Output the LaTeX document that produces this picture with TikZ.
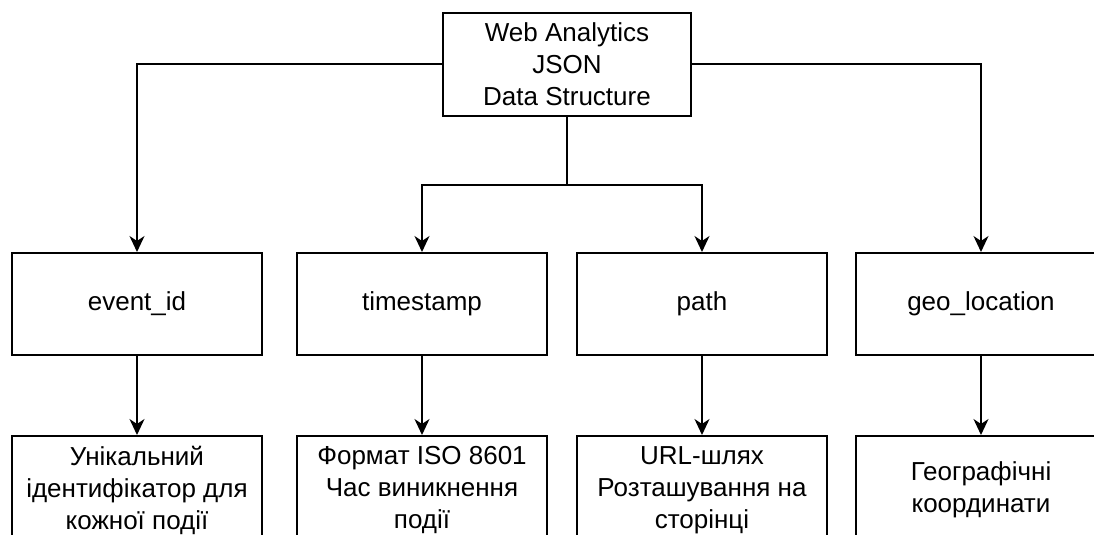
\documentclass[tikz,border=0pt]{standalone}
\usepackage{fontspec}
\setmainfont{Liberation Sans}
\usetikzlibrary{arrows.meta}

\begin{document}
\begin{tikzpicture}[x=0.5pt,y=-0.5pt,>={Stealth[length=8pt,width=7.5pt,inset=2.5pt]},
  box/.style={draw,line width=1pt,minimum width=125pt,minimum height=51pt,
    align=center,inner sep=2pt,font=\fontsize{13}{16}\selectfont},
  link/.style={->,line width=1pt}]
  \useasboundingbox (0,0) rectangle (1094,535);
  \clip (0,0) rectangle (1094,535);
  % root of the structure
  \node[box,minimum width=124pt,minimum height=51.5pt] (root) at (567,64.5)
    {Web Analytics\\JSON\\Data Structure};
  % fields and their descriptions
  \foreach \nm/\x/\fld/\info in {
      event/137/event\_id/{Унікальний\\ідентифікатор для\\кожної події},
      stamp/422/timestamp/{Формат ISO 8601\\Час виникнення\\події},
      path/702/path/{URL-шлях\\Розташування на\\сторінці},
      geo/981/geo\_location/{Географічні\\координати}} {
    \node[box] (\nm) at (\x,304) {\fld};
    \node[box,minimum height=54pt] (\nm-info) at (\x,490) {\info};
    \draw[link] (\nm) -- (\nm-info);
  }
  \coordinate (split) at (567,185);
  \draw[link] (root.west) -| (event.north);
  \draw[link] (root.east) -| (geo.north);
  \draw[line width=1pt] (root.south) -- (split);
  \draw[link] (split) -| (stamp.north);
  \draw[link] (split) -| (path.north);
\end{tikzpicture}
\end{document}
